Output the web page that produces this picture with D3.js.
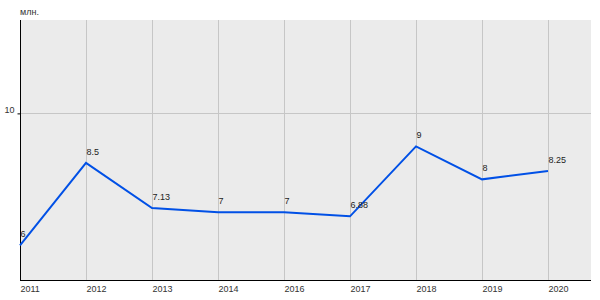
<!DOCTYPE html>
<html>
<head>
<meta charset="utf-8">
<script src="https://cdn.jsdelivr.net/npm/d3@7"></script>
<style>
  body { margin: 0; background: #fff; }
  text { font-family: "Liberation Sans", Arial, sans-serif; }
</style>
</head>
<body>
<svg width="600" height="300"></svg>
<script>
const years = ['2011', '2012', '2013', '2014', '2016', '2017', '2018', '2019', '2020'];
const values = [6, 8.5, 7.13, 7, 7, 6.88, 9, 8, 8.25];
const yTicks = [10];
const unitLabel = 'млн.';

function whenLoaded() {
  const svg = d3.select('svg');
  const left = 20, top = 20, right = 591, bottom = 280;

  const x = d3.scalePoint().domain(years).range([left, left + 66 * (years.length - 1)]);
  const y = d3.scaleLinear().domain([4.95, 12.83]).range([bottom, top]);

  svg.append('rect')
    .attr('x', left).attr('y', top)
    .attr('width', right - left).attr('height', bottom - top)
    .attr('fill', '#ebebeb');

  // grid
  svg.append('g').selectAll('line').data(years.slice(1))
    .enter().append('line')
      .attr('x1', d => x(d) + 0.5).attr('x2', d => x(d) + 0.5)
      .attr('y1', top).attr('y2', bottom)
      .attr('stroke', '#c6c6c6');

  svg.append('g').selectAll('line').data(yTicks)
    .enter().append('line')
      .attr('x1', left).attr('x2', right)
      .attr('y1', d => Math.round(y(d)) + 0.5).attr('y2', d => Math.round(y(d)) + 0.5)
      .attr('stroke', '#c6c6c6');

  // y axis
  const yAxis = svg.append('g')
    .attr('transform', `translate(${left + 0.5},0)`)
    .call(d3.axisLeft(y).tickValues(yTicks).tickSize(3).tickSizeOuter(0));
  yAxis.select('.domain').attr('stroke', '#000').attr('d', `M0,${top}V${bottom}`);
  yAxis.selectAll('.tick line').attr('stroke', '#000');
  yAxis.selectAll('.tick text')
    .attr('x', -6).attr('dy', '-0.1em')
    .attr('font-size', 9).attr('fill', '#333')
    .attr('font-family', '"Liberation Sans", Arial, sans-serif');

  // x axis
  const xAxis = svg.append('g')
    .attr('transform', `translate(0,${bottom + 0.5})`)
    .call(d3.axisBottom(x).tickSize(0).tickSizeOuter(0));
  xAxis.select('.domain').attr('stroke', '#000').attr('d', `M${left},0H${right}`);
  xAxis.selectAll('.tick text')
    .attr('text-anchor', 'start')
    .attr('y', 11).attr('dy', 0)
    .attr('font-size', 9).attr('fill', '#333')
    .attr('font-family', '"Liberation Sans", Arial, sans-serif');

  svg.append('text')
    .attr('x', left).attr('y', 15)
    .attr('font-size', 9).attr('fill', '#333')
    .text(unitLabel);

  const line = d3.line()
    .x((d, i) => x(years[i]))
    .y(d => y(d));

  svg.append('path')
    .datum(values)
    .attr('d', line)
    .attr('fill', 'none')
    .attr('stroke', '#0050e6')
    .attr('stroke-width', 2);

  svg.append('g').selectAll('text').data(values)
    .enter().append('text')
      .attr('x', (d, i) => x(years[i]) + 0.5)
      .attr('y', d => y(d) - 8)
      .attr('font-size', 9).attr('fill', '#222')
      .text(d => d);
}

window.onload = whenLoaded;
</script>
</body>
</html>
